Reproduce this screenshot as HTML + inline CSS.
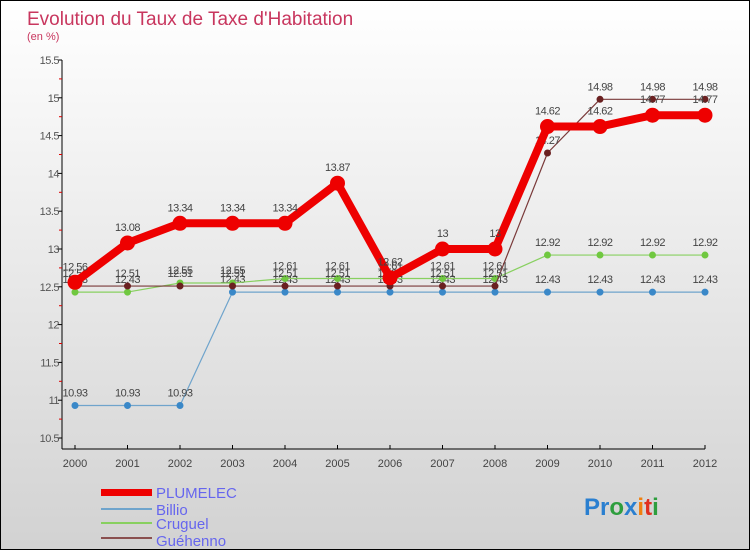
<!DOCTYPE html>
<html><head><meta charset="utf-8"><style>
body{margin:0}
#wrap{width:748px;height:548px;border:1px solid #000;background:linear-gradient(#ffffff,#d2d2d2);position:relative;overflow:hidden;font-family:"Liberation Sans",sans-serif}
</style></head><body>
<div id="wrap">
<svg id="svg" width="748" height="548" xmlns="http://www.w3.org/2000/svg">
<text x="26" y="24" font-size="19" fill="#c8365e">Evolution du Taux de Taxe d'Habitation</text>
<text x="26" y="39" font-size="11" fill="#c8365e">(en %)</text>
<g id="axes"></g><g id="series"></g>
<g>
<rect x="100" y="488" width="51" height="7" fill="#ee0000"/>
<line x1="100" y1="508" x2="151" y2="508" stroke="#6fa4cc" stroke-width="2"/>
<line x1="100" y1="522" x2="151" y2="522" stroke="#88d060" stroke-width="2"/>
<line x1="100" y1="537" x2="151" y2="537" stroke="#8a5050" stroke-width="2"/>
<text x="155" y="497" font-size="15" fill="#6666ee">PLUMELEC</text>
<text x="155" y="514" font-size="15" fill="#6666ee">Billio</text>
<text x="155" y="528" font-size="15" fill="#6666ee">Cruguel</text>
<text x="155" y="545" font-size="15" fill="#6666ee">Guéhenno</text>
</g>
<text x="583" y="514" font-size="24" font-weight="bold"><tspan fill="#2a7fd0">Pr</tspan><tspan fill="#2e9e3e">o</tspan><tspan fill="#2a7fd0">x</tspan><tspan fill="#f08010">i</tspan><tspan fill="#e03020">t</tspan><tspan fill="#2e9e3e">i</tspan></text>
</svg></div>
<script>
const years=[2000,2001,2002,2003,2004,2005,2006,2007,2008,2009,2010,2011,2012];
const yTicks=[10.5,11,11.5,12,12.5,13,13.5,14,14.5,15,15.5];
const plumelec=[12.56,13.08,13.34,13.34,13.34,13.87,12.62,13,13,14.62,14.62,14.77,14.77];
const billio=[10.93,10.93,10.93,12.43,12.43,12.43,12.43,12.43,12.43,12.43,12.43,12.43,12.43];
const cruguel=[12.43,12.43,12.55,12.55,12.61,12.61,12.61,12.61,12.61,12.92,12.92,12.92,12.92];
const guehenno=[12.51,12.51,12.51,12.51,12.51,12.51,12.51,12.51,12.51,14.27,14.98,14.98,14.98];
const NS="http://www.w3.org/2000/svg";
const X=i=>74+i*52.5;
const Y=v=>59+(15.5-v)*75.6;
function el(t,a,p){const e=document.createElementNS(NS,t);for(const k in a)e.setAttribute(k,a[k]);p.appendChild(e);return e;}
const ax=document.getElementById('axes'),sg=document.getElementById('series');
const yl=el('line',{x1:61,y1:Y(15.5),x2:61,y2:448,stroke:'#000'},ax);


const xl=el('line',{x1:61,y1:448,x2:X(12),y2:448,stroke:'#000'},ax);


yTicks.forEach((v,i)=>{
 el('line',{x1:57,y1:Y(v),x2:61,y2:Y(v),stroke:'#000'},ax);
 if(i<yTicks.length-1) el('line',{x1:58,y1:Y(v+0.25),x2:61,y2:Y(v+0.25),stroke:'#d00'},ax);
 const t=el('text',{x:58,y:Y(v)+4,'font-size':11,fill:'#555','text-anchor':'end','letter-spacing':'-0.5'},ax);
 t.textContent=String(v);
 
 
});
years.forEach((y,i)=>{
 el('line',{x1:X(i),y1:444,x2:X(i),y2:448,stroke:'#000'},ax);
 const t=el('text',{x:X(i),y:466,'font-size':11,fill:'#444','text-anchor':'middle'},ax);
 t.textContent=y;
 
 
});
function series(data,color,w,r,dot,name,off){
 const g=el('g',{},sg);
 
 
 el('polyline',{points:data.map((v,i)=>X(i)+','+Y(v)).join(' '),fill:'none',stroke:color,'stroke-width':w,'stroke-linejoin':'round'},g);
 data.forEach((v,i)=>{
  const c=el('circle',{cx:X(i),cy:Y(v),r:r,fill:dot,stroke:dot},g);
  
  
  const t=el('text',{x:X(i),y:Y(v)+off,'font-size':11,fill:'#444','text-anchor':'middle','letter-spacing':'-0.5'},g);
  t.textContent=String(v);
  
  
 });
}
series(billio,'#6fa4cc',1.2,3,'#3a88c8','billio',-9);
series(cruguel,'#88d060',1.2,3,'#70c840','cruguel',-9);
series(guehenno,'#7a3a3a',1.2,3,'#6a2020','guehenno',-9);
series(plumelec,'#ee0000',8,7,'#ee0000','plumelec',-12);
</script>
</body></html>
